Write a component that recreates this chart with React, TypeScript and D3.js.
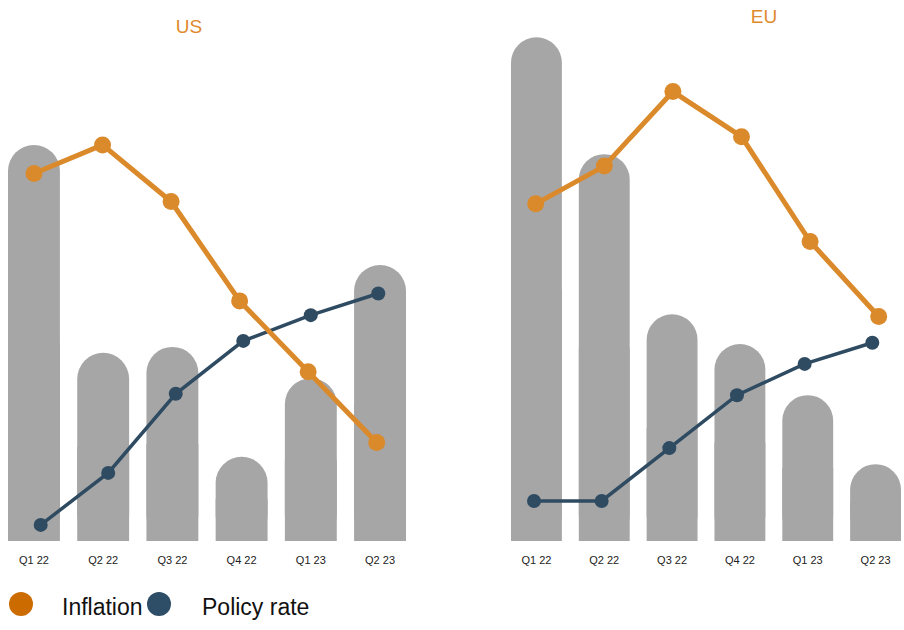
import React from 'react';
import * as d3 from 'd3';

// quarters shown under each panel
const quarters = ['Q1 22', 'Q2 22', 'Q3 22', 'Q4 22', 'Q1 23', 'Q2 23'];

const usBars = [8.61, 4.09, 4.22, 1.83, 3.54, 6.0];
const usInflation = [7.99, 8.61, 7.38, 5.22, 3.68, 2.14];
const usPolicy = [0.35, 1.48, 3.2, 4.35, 4.91, 5.38];

const euBars = [10.95, 8.41, 4.93, 4.28, 3.17, 1.67];
const euInflation = [7.33, 8.15, 9.77, 8.79, 6.51, 4.88];
const euPolicy = [0.87, 0.87, 2.02, 3.17, 3.85, 4.31];

const W = 904;
const H = 630;
const baseline = 541;

const barGrey = '#a6a6a6';
const orange = '#db8a2b';
const blue = '#2f4b62';
const font = '"Liberation Sans", Arial, Helvetica, sans-serif';

const y = d3.scaleLinear().domain([0, 11]).range([baseline, 35]);

interface PanelProps {
  title: string;
  titleX: number;
  titleY: number;
  bars: number[];
  inflation: number[];
  policy: number[];
  barRange: [number, number];
  inflRange: [number, number];
  polRange: [number, number];
}

const Panel: React.FC<PanelProps> = ({
  title, titleX, titleY, bars, inflation, policy, barRange, inflRange, polRange,
}) => {
  const x = d3.scaleBand<string>().domain(quarters).range(barRange).paddingInner(0.25).paddingOuter(0);
  const xInfl = d3.scalePoint<string>().domain(quarters).range(inflRange);
  const xPol = d3.scalePoint<string>().domain(quarters).range(polRange);
  const bw = x.bandwidth();

  const inflLine = d3.line<number>()
    .x((_, i) => xInfl(quarters[i])!)
    .y(d => y(d));
  const polLine = d3.line<number>()
    .x((_, i) => xPol(quarters[i])!)
    .y(d => y(d));

  return (
    <g>
      <text x={titleX} y={titleY} textAnchor="middle" fontSize={19} fill="#e08a2d" fontFamily={font}>
        {title}
      </text>
      {bars.map((v, i) => {
        const top = y(v);
        const h = baseline - top;
        const x0 = x(quarters[i])!;
        // rounded cap on top, square bottom half
        return (
          <g key={i}>
            <rect x={x0} y={top} width={bw} height={h} rx={bw / 2} ry={bw / 2} fill={barGrey} />
            <rect x={x0} y={top + h / 2} width={bw} height={h / 2} fill={barGrey} />
          </g>
        );
      })}
      <path d={polLine(policy)!} fill="none" stroke={blue} strokeWidth={3.5} />
      {policy.map((v, i) => (
        <circle key={i} cx={xPol(quarters[i])!} cy={y(v)} r={7} fill={blue} />
      ))}
      <path d={inflLine(inflation)!} fill="none" stroke={orange} strokeWidth={5} />
      {inflation.map((v, i) => (
        <circle key={i} cx={xInfl(quarters[i])!} cy={y(v)} r={8.5} fill={orange} />
      ))}
      {quarters.map((q, i) => (
        <text
          key={q}
          x={x(q)! + bw / 2}
          y={564}
          textAnchor="middle"
          fontSize={11}
          fill="#222"
          fontFamily={font}
        >
          {q}
        </text>
      ))}
    </g>
  );
};

const App: React.FC = () => {
  return (
    <svg
      width={W}
      height={H}
      style={{ position: 'fixed', left: 0, top: 0, background: '#fff' }}
    >
      <Panel
        title="US"
        titleX={189}
        titleY={33}
        bars={usBars}
        inflation={usInflation}
        policy={usPolicy}
        barRange={[8, 406]}
        inflRange={[34, 376.7]}
        polRange={[40.7, 378.3]}
      />
      <Panel
        title="EU"
        titleX={764}
        titleY={23}
        bars={euBars}
        inflation={euInflation}
        policy={euPolicy}
        barRange={[511, 901]}
        inflRange={[535.7, 878.7]}
        polRange={[534, 872.3]}
      />
      <g fontFamily={font} fontSize={23} fill="#111">
        <circle cx={21} cy={604} r={12} fill="#cc6c00" />
        <text x={62} y={615}>Inflation</text>
        <circle cx={159} cy={604} r={12} fill="#2e4d66" />
        <text x={202} y={615}>Policy rate</text>
      </g>
    </svg>
  );
};

export default App;
